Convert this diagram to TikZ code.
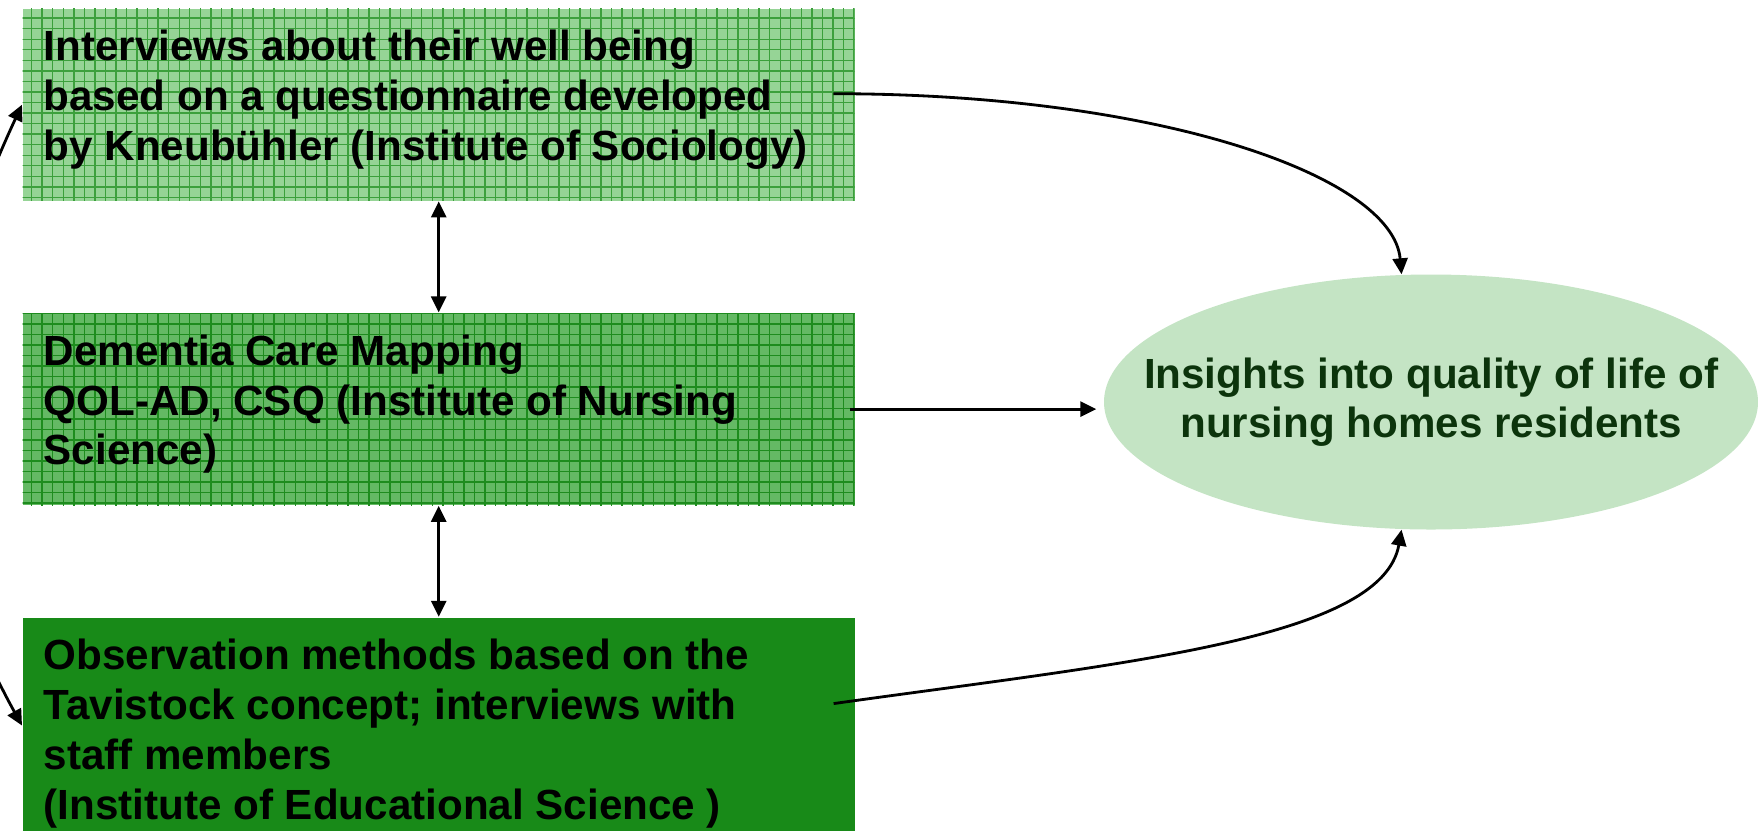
\documentclass[tikz,border=0pt]{standalone}
\usepackage{fontspec}
\setmainfont{Liberation Sans}
\usetikzlibrary{arrows.meta,positioning,shapes.geometric,patterns}

\definecolor{intfill}{RGB}{150,212,150}
\definecolor{intgrid}{RGB}{60,160,60}
\definecolor{dcmfill}{RGB}{100,185,100}
\definecolor{dcmgrid}{RGB}{30,140,30}
\definecolor{obsfill}{RGB}{24,138,24}
\definecolor{ellfill}{RGB}{196,228,196}
\definecolor{elltext}{RGB}{12,52,12}

\begin{document}
\begin{tikzpicture}
    \tikzstyle{box} = [rectangle, minimum width=8.32cm, minimum height=1.92cm, inner sep=0pt]
    \tikzstyle{txt} = [inner sep=0pt, align=left, font=\fontsize{12}{14.2}\selectfont\bfseries]
    \tikzstyle{arr} = [line width=0.8pt, -{Triangle[length=1.6mm, width=1.5mm]}, draw=black]
    \tikzstyle{dbl} = [line width=0.8pt, {Triangle[length=1.6mm, width=1.5mm]}-{Triangle[length=1.6mm, width=1.5mm]}, draw=black]

    \useasboundingbox (0,0) rectangle (17.58,8.30);

    % the three methods
    \node [box, fill=intfill, postaction={pattern=grid, pattern color=intgrid}, anchor=north west] (int) at (0.22,8.22) {};
    \node [box, fill=dcmfill, postaction={pattern=grid, pattern color=dcmgrid}, below=1.11cm of int] (dcm) {};
    \node [box, fill=obsfill, minimum height=2.16cm, below=1.11cm of dcm] (obs) {};

    \node [txt, below right=0.215cm and 0.21cm of int.north west] (intT) {Interviews about their well being\\based on a questionnaire developed\\by Kneubühler (Institute of Sociology)};
    \node [txt, below right=0.215cm and 0.21cm of dcm.north west] (dcmT) {Dementia Care Mapping\\QOL-AD, CSQ (Institute of Nursing\\Science)};
    \node [txt, below right=0.215cm and 0.21cm of obs.north west] (obsT) {Observation methods based on the\\Tavistock concept; interviews with\\staff members\\(Institute of Educational Science )};

    % the outcome
    \node [ellipse, fill=ellfill, minimum width=6.54cm, minimum height=2.55cm, inner sep=0pt] (ell) at (14.31,4.28) {};
    \node [txt, align=center, text=elltext, font=\fontsize{12}{14}\selectfont\bfseries] (ellT) at (ell.center) {Insights into quality of life of\\nursing homes residents};

    \draw [dbl] (int.south) -- (dcm.north);
    \draw [dbl] (dcm.south) -- (obs.north);
    \draw [dbl] (obs.west) to [out=119, in=245] (int.west);

    \draw [arr, shorten <=-0.22cm] ([yshift=0.11cm]int.east) to [out=0, in=95, out looseness=1.34, in looseness=0.44] (ell.103);
    \draw [arr, shorten <=-0.05cm, shorten >=0.07cm] (dcm.east) -- (dcm.east -| ell.west);
    \draw [arr, shorten <=-0.22cm] ([yshift=0.25cm]obs.east) to [out=8, in=-100, out looseness=1.2, in looseness=0.5] (ell.257);
\end{tikzpicture}
\end{document}
